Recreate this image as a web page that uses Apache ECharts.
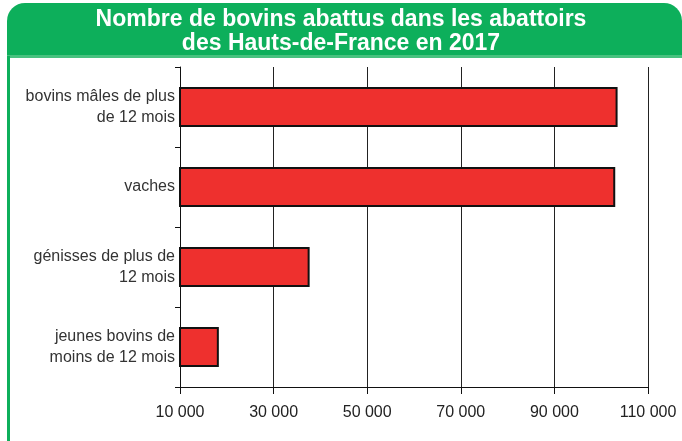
<!DOCTYPE html>
<html>
<head>
<meta charset="utf-8">
<script src="https://cdn.jsdelivr.net/npm/echarts@6/dist/echarts.min.js"></script>
<style>
  html, body { margin: 0; padding: 0; background: #fff; }
  #chart { width: 682px; height: 441px; }
</style>
</head>
<body>
<div id="chart"></div>
<script>
// catégories (de haut en bas)
const categories = [
  'bovins mâles de plus\nde 12 mois',
  'vaches',
  'génisses de plus de\n12 mois',
  'jeunes bovins de\nmoins de 12 mois'
]
// nombre de têtes abattues
const values = [103500, 103000, 37700, 18300]
const xTicks = [10000, 30000, 50000, 70000, 90000, 110000]

const GREEN = '#0daf5b'
const RED = '#ee302e'

const chart = echarts.init(document.getElementById('chart'), null, { renderer: 'canvas' })

const option = {
  animation: false,
  backgroundColor: '#fff',
  title: {
    text: 'Nombre de bovins abattus dans les abattoirs\ndes Hauts-de-France en 2017',
    left: 'center',
    top: 3,
    textStyle: {
      color: '#fff',
      fontFamily: 'Liberation Sans, Arial, sans-serif',
      fontWeight: 'bold',
      fontSize: 23,
      lineHeight: 24,
      align: 'center',
    },
  },
  graphic: [
    {
      type: 'rect',
      z: -1,
      shape: { x: 7, y: 3, width: 675, height: 53, r: [18, 18, 0, 0] },
      style: { fill: GREEN },
    },
    {
      type: 'rect',
      z: -1,
      shape: { x: 7, y: 55, width: 675, height: 3 },
      style: { fill: '#47c27f' },
    },
    {
      type: 'rect',
      z: -1,
      shape: { x: 7, y: 56, width: 3, height: 385 },
      style: { fill: GREEN },
    },
  ],
  grid: {
    left: 180,
    right: 34,
    top: 67,
    bottom: 54,
    containLabel: false,
  },
  xAxis: {
    type: 'value',
    min: xTicks[0],
    max: xTicks[xTicks.length - 1],
    interval: 20000,
    axisLine: { show: true, lineStyle: { color: '#111', width: 1 } },
    axisTick: { show: true, length: 7, lineStyle: { color: '#111' } },
    splitLine: { show: true, lineStyle: { color: '#222', width: 1 } },
    axisLabel: {
      color: '#222',
      fontSize: 16,
      fontFamily: 'Liberation Sans, Arial, sans-serif',
      margin: 18,
      formatter: (v) => String(v).replace(/\B(?=(\d{3})+(?!\d))/g, ' '),
    },
  },
  yAxis: {
    type: 'category',
    inverse: true,
    data: categories,
    axisLine: { show: true, lineStyle: { color: '#111', width: 1 } },
    axisTick: { show: true, length: 5, lineStyle: { color: '#111' } },
    axisLabel: {
      color: '#333',
      fontSize: 16,
      lineHeight: 21,
      fontFamily: 'Liberation Sans, Arial, sans-serif',
      margin: 5,
    },
  },
  series: [
    {
      type: 'bar',
      data: values,
      barWidth: 40,
      itemStyle: {
        color: RED,
        borderColor: '#111',
        borderWidth: 2,
      },
    },
  ],
}

chart.setOption(option)
</script>
</body>
</html>
